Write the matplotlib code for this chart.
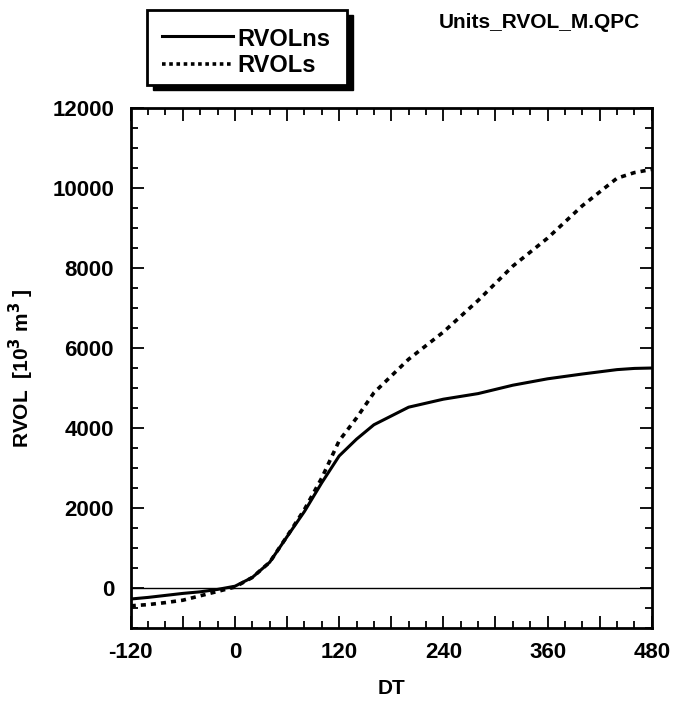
import numpy as np
import matplotlib.pyplot as plt
from matplotlib.patches import Rectangle
from matplotlib.lines import Line2D
from matplotlib.ticker import MultipleLocator, FuncFormatter

plt.rcParams['font.family'] = ['Liberation Sans', 'DejaVu Sans']
plt.rcParams['font.weight'] = 'bold'
plt.rcParams['axes.labelweight'] = 'bold'
plt.rcParams['mathtext.default'] = 'bf'

# 读图估计的数据
dt = [-120, -100, -80, -60, -40, -20, 0, 20, 40, 60, 80, 100, 120, 140,
      160, 180, 200, 240, 280, 320, 360, 400, 440, 460, 480]
rvol_ns = [-280, -240, -190, -140, -100, -40, 40, 260, 640, 1280, 1910, 2630,
           3300, 3720, 4080, 4300, 4520, 4720, 4860, 5070, 5230, 5350, 5460,
           5490, 5500]
rvol_s = [-450, -420, -370, -310, -200, -90, 20, 260, 640, 1290, 1960, 2750,
          3680, 4250, 4880, 5300, 5720, 6400, 7190, 8050, 8750, 9560, 10250,
          10390, 10470]
labels = ['RVOLns', 'RVOLs']
title = 'Units_RVOL_M.QPC'

fig = plt.figure(figsize=(6.74, 7.03), dpi=100)
ax = fig.add_axes([0.194, 0.107, 0.773, 0.739])

ax.plot(dt, rvol_ns, color='black', lw=2.2, solid_capstyle='butt')
ax.plot(dt, rvol_s, color='black', lw=2.6, linestyle=(0, (1.4, 1.4)))
ax.axhline(0, color='black', lw=1)

ax.set_xlim(-120, 480)
ax.set_ylim(-1000, 12000)
ax.xaxis.set_major_locator(MultipleLocator(60))
ax.xaxis.set_minor_locator(MultipleLocator(20))
ax.xaxis.set_major_formatter(FuncFormatter(lambda v, p: '%d' % v if v % 120 == 0 else ''))
ax.yaxis.set_major_locator(MultipleLocator(2000))
ax.yaxis.set_minor_locator(MultipleLocator(500))
ax.tick_params(which='both', direction='in', top=True, right=True, width=1.3,
               labelsize=16)
ax.tick_params(which='major', length=9, pad=10)
ax.tick_params(which='minor', length=5)
ax.tick_params(axis='y', which='major', pad=12)
for s in ax.spines.values():
    s.set_linewidth(2)

ax.set_xlabel('DT', fontsize=15, labelpad=12)
ax.set_ylabel('RVOL  [10$^3$ m$^3$ ]', fontsize=15, labelpad=12)

# 图例框（带黑色阴影）
W, H = 674, 703
def fx(px):
    return px / W
def fy(py):
    return 1 - py / H
fig.add_artist(Rectangle((fx(153), fy(90)), fx(200), 75 / H,
                         transform=fig.transFigure, facecolor='black', edgecolor='black'))
fig.add_artist(Rectangle((fx(147), fy(85)), fx(200), 75 / H,
                         transform=fig.transFigure, facecolor='white', edgecolor='black', lw=2))
fig.add_artist(Line2D([fx(162), fx(233)], [fy(36), fy(36)], transform=fig.transFigure,
                      color='black', lw=2.2))
fig.add_artist(Line2D([fx(162), fx(233)], [fy(64), fy(64)], transform=fig.transFigure,
                      color='black', lw=2.6, linestyle=(0, (1.0, 1.0))))
fig.text(fx(237), fy(40), labels[0], fontsize=17, va='center', ha='left')
fig.text(fx(237), fy(66), labels[1], fontsize=17, va='center', ha='left')

fig.text(fx(640), fy(22), title, fontsize=15, va='center', ha='right')

fig.savefig('out.png', dpi=100)
